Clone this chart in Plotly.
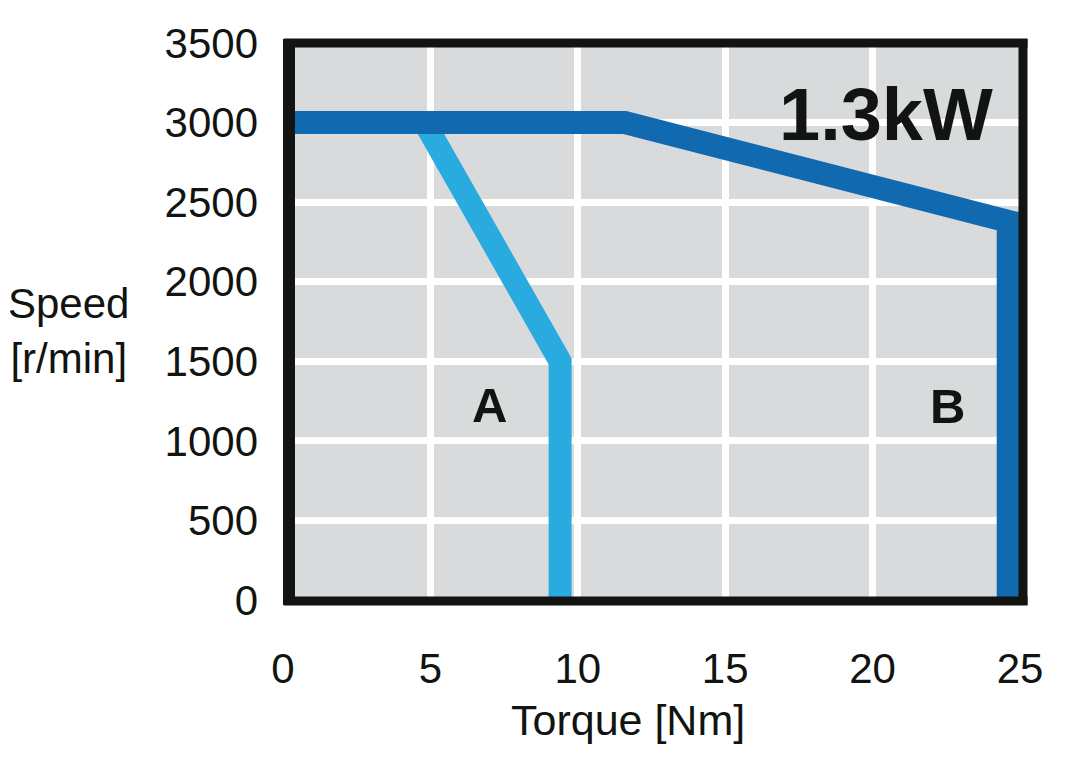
import plotly.graph_objects as go

# Data
torque_A = [4.8, 9.4, 9.4]
speed_A = [3000, 1500, 0]
torque_B = [0, 11.6, 24.6, 24.6]
speed_B = [3000, 3000, 2380, 0]
x_ticks = [0, 5, 10, 15, 20, 25]
y_ticks = [0, 500, 1000, 1500, 2000, 2500, 3000, 3500]
label_A = "A"
label_B = "B"
title_power = "1.3kW"

W, H = 1067, 763
OFF = 8  # page body margin
# desired screen positions of plot area
SL, SR, ST, SB = 283, 1020.5, 36, 600
L = SL - OFF
T = ST - OFF
R = W - (SR - OFF)
B = H - (SB - OFF)
PW, PH = SR - SL, SB - ST

def px(x):
    return (x - SL) / PW

def py(y):
    return (SB - y) / PH

FONT = "Liberation Sans, Arial, sans-serif"
INK = "#111411"

fig = go.Figure()
fig.add_trace(go.Scatter(x=torque_A, y=speed_A, mode="lines",
                         line=dict(color="#29abe0", width=23), hoverinfo="skip"))
fig.add_trace(go.Scatter(x=torque_B, y=speed_B, mode="lines",
                         line=dict(color="#1169b0", width=23), hoverinfo="skip"))

fig.update_layout(
    width=W, height=H,
    margin=dict(l=L, r=R, t=T, b=B),
    paper_bgcolor="white",
    plot_bgcolor="#d9dadc",
    showlegend=False,
    font=dict(family=FONT, color=INK, size=42),
)
fig.update_xaxes(range=[0, 25], tickvals=x_ticks, ticktext=[str(v) for v in x_ticks],
                 showgrid=True, gridcolor="white", gridwidth=7, zeroline=False,
                 showline=False, ticks="", ticklabelstandoff=40,
                 tickfont=dict(size=42, family=FONT, color=INK), fixedrange=True)
fig.update_yaxes(range=[0, 3500], tickvals=y_ticks, ticktext=[str(v) for v in y_ticks],
                 showgrid=True, gridcolor="white", gridwidth=7, zeroline=False,
                 showline=False, ticks="", ticklabelstandoff=24,
                 tickfont=dict(size=42, family=FONT, color=INK), fixedrange=True)

# Frame (paper-referenced so it isn't clipped)
frame = dict(type="line", xref="paper", yref="paper", line=dict(color=INK, width=9), layer="above")
fig.add_shape(**{**frame, "line": dict(color=INK, width=12)}, x0=px(289), x1=px(289), y0=py(605), y1=py(32))
fig.add_shape(**frame, x0=px(1023.5), x1=px(1023.5), y0=py(605), y1=py(32))
fig.add_shape(**frame, x0=px(284), x1=px(1028), y0=py(36), y1=py(36))
fig.add_shape(**frame, x0=px(284), x1=px(1028), y0=py(601), y1=py(601))

ann = dict(xref="paper", yref="paper", showarrow=False, xanchor="center", yanchor="middle")
fig.add_annotation(**ann, x=px(886), y=py(108), text=f"<b>{title_power}</b>",
                   font=dict(size=74, family=FONT, color=INK))
fig.add_annotation(**ann, x=px(489.5), y=py(403), text=f"<b>{label_A}</b>",
                   font=dict(size=49, family=FONT, color=INK))
fig.add_annotation(**ann, x=px(948), y=py(404), text=f"<b>{label_B}</b>",
                   font=dict(size=49, family=FONT, color=INK))
fig.add_annotation(**ann, x=px(68), y=py(328), text="Speed<br>[r/min]",
                   font=dict(size=42, family=FONT, color=INK))
fig.add_annotation(**ann, x=px(628), y=py(722), text="Torque [Nm]",
                   font=dict(size=43, family=FONT, color=INK))

fig.write_html("out.html")
